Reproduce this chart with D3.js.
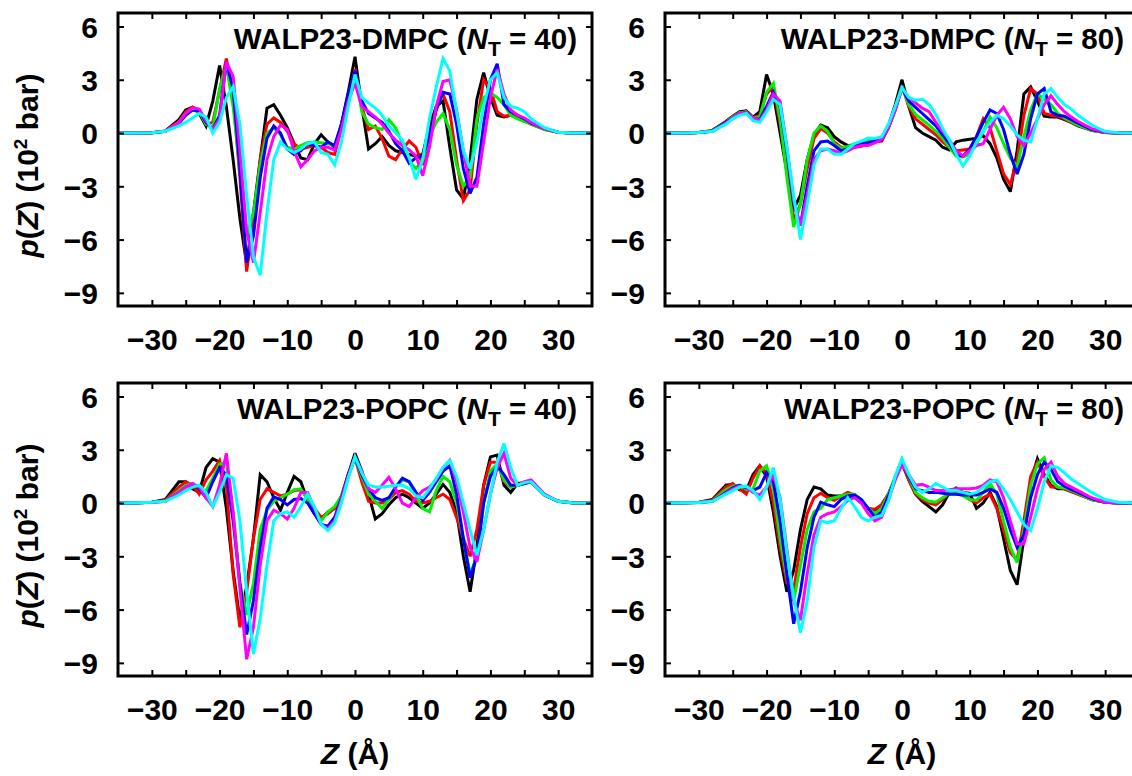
<!DOCTYPE html>
<html><head><meta charset="utf-8">
<script src="https://cdn.jsdelivr.net/npm/d3@7"></script>
<style>body{margin:0;background:#fff}svg{display:block;font-family:"Liberation Sans",Arial,Helvetica,sans-serif;font-weight:bold}</style>
</head><body><svg id="chart" width="1132" height="776"></svg>
<script>
// Z grid (Å)
const zGrid = [-35,-32,-30,-28,-26,
  -25,-24,-23,-22,-21,-20,-19,-18,-17,-16,
  -15,-14,-13,-12,-11,-10,-9,-8,-7,-6,
  -5,-4,-3,-2,-1,0,1,2,3,4,
  5,6,7,8,9,10,11,12,13,14,
  15,16,17,18,19,20,21,22,23,24,
  25,
  26,28,30,32,35];
const xTickValues = [-30,-25,-20,-15,-10,-5,0,5,10,15,20,25,30];
const xTickLabels = [-30,-20,-10,0,10,20,30];
const yTickValues = [-9,-6,-3,0,3,6];
const seriesColors = ["#000000","#ff0000","#00f000","#0000ff","#ff00ff","#00ffff"];
const panelSystems = ["WALP23-DMPC","WALP23-DMPC","WALP23-POPC","WALP23-POPC"];
const panelNT = ["40","80","40","80"];

// WALP23-DMPC, N_T = 40
const dmpc40_black = [0,0,0.02,0.12,0.75, 1.3,1.45,1.1,0.4,1.8,3.8,1.5,-1.5,-4.8,-7.4, -4.5,-1.5,1.4,1.6,1.0,0.3,-0.6,-1.4,-1.5,-0.6, -0.1,-0.5,-0.8,0.5,2.3,4.3,1.5,-0.9,-0.6,-0.2, -0.7,-1.0,-1.1,-1.2,-1.3,-1.2,0.4,1.5,1.8,-0.8, -3.2,-3.7,-1.5,1.9,3.4,2.0,1.0,0.9,1.0,0.9, 0.75, 0.55,0.25,0.05,0,0];
const dmpc40_red = [0,0,0.02,0.1,0.65, 1.2,1.45,1.3,0.5,0.6,2.4,4.2,2.0,-2.5,-7.8, -5.0,-1.5,0.5,0.85,0.6,0.1,-0.6,-0.9,-0.8,-0.7, -0.8,-1.1,-1.2,0.3,2.0,3.6,1.5,0.2,0.4,-0.3, -1.3,-1.5,-0.9,-0.45,-0.8,-1.8,-0.5,1.4,2.2,1.2, -1.5,-3.8,-3.2,0.5,3.0,2.5,1.2,0.95,1.0,0.9, 0.7, 0.5,0.2,0.05,0,0];
const dmpc40_green = [0,0,0.02,0.1,0.6, 1.1,1.3,1.2,0.5,0.3,2.5,3.8,1.5,-2.0,-5.8, -4.5,-1.8,0.0,0.3,-0.1,-0.8,-0.9,-0.7,-0.55,-0.5, -0.55,-0.6,-0.7,0.5,2.0,3.4,1.2,0.5,0.3,0.2, 0.75,0.3,-0.6,-1.6,-2.0,-1.5,-0.2,0.6,1.1,0.2, -1.8,-3.0,-2.5,0.8,2.0,2.25,2.0,1.6,1.0,0.8, 0.65, 0.5,0.2,0.05,0,0];
const dmpc40_blue = [0,0,0.02,0.1,0.55, 1.0,1.3,1.25,0.6,0.2,1.0,4.0,2.5,-2.0,-7.3, -5.8,-2.5,-0.3,0.4,0.0,-0.9,-1.2,-1.0,-0.6,-0.7, -0.8,-0.5,-0.7,0.5,2.2,3.5,1.8,1.1,0.85,0.6, 0.1,-0.6,-1.0,-1.7,-1.4,-1.3,-0.2,1.3,2.3,2.2, 0.5,-2.0,-3.4,-2.5,0.5,3.0,3.9,1.6,1.2,1.0, 0.8, 0.55,0.25,0.05,0,0];
const dmpc40_magenta = [0,0,0.02,0.1,0.6, 1.1,1.4,1.35,0.7,0.2,0.8,4.0,3.2,-1.0,-5.5, -7.3,-4.5,-1.5,-0.2,0.45,0.2,-1.0,-1.9,-1.5,-1.0, -0.8,-0.8,-0.95,0.2,1.8,2.8,1.5,1.2,0.9,0.5, 0.0,-0.4,-0.7,-0.95,-1.3,-2.4,-0.8,1.5,2.9,3.0, 1.3,-1.0,-3.0,-3.0,-0.5,2.0,3.6,2.2,1.3,1.0, 0.85, 0.6,0.25,0.05,0,0];
const dmpc40_cyan = [0,0,0.02,0.1,0.4, 0.6,0.85,1.1,0.9,0.0,0.6,2.0,2.6,0.5,-3.5, -7.0,-8.0,-4.5,-1.5,-0.5,-0.9,-1.1,-0.9,-0.6,-0.5, -1.1,-1.2,-1.8,-0.5,1.5,3.3,2.0,1.7,1.4,1.0, 0.4,0.0,-0.4,-1.4,-2.6,-1.5,0.8,2.6,4.2,3.5, 1.2,-1.0,-2.0,-0.5,1.5,3.0,3.4,2.0,1.5,1.4, 1.2, 0.8,0.3,0.05,0,0];

// WALP23-DMPC, N_T = 80
const dmpc80_black = [0,0,0.03,0.15,0.65, 0.95,1.2,1.25,0.9,1.2,3.3,2.2,0.0,-2.2,-4.3, -3.5,-1.5,-0.1,0.45,0.3,-0.2,-0.5,-0.7,-0.75,-0.5, -0.3,-0.4,-0.4,0.4,1.6,3.0,1.5,0.3,0.0,-0.2, -0.4,-0.8,-0.95,-0.5,-0.4,-0.35,-0.3,-0.15,-0.6,-1.4, -2.6,-3.3,-1.0,2.2,2.6,1.8,0.95,0.9,0.9,0.75, 0.6, 0.4,0.15,0.03,0,0];
const dmpc80_red = [0,0,0.03,0.12,0.6, 0.9,1.15,1.2,0.85,1.0,2.2,2.6,0.5,-2.0,-4.9, -4.0,-2.0,-0.3,0.25,0.0,-0.5,-0.8,-0.8,-0.8,-0.75, -0.65,-0.5,-0.45,0.3,1.4,2.65,1.5,0.8,0.5,0.2, -0.1,-0.5,-0.8,-1.0,-0.95,-0.9,-0.2,0.8,0.3,-1.0, -2.3,-2.9,-1.5,1.0,2.5,2.2,1.1,1.0,0.95,0.8, 0.6, 0.45,0.15,0.03,0,0];
const dmpc80_green = [0,0,0.03,0.12,0.6, 0.9,1.15,1.2,0.85,0.9,2.3,2.8,0.8,-2.5,-5.3, -4.0,-1.5,0.0,0.4,0.1,-0.6,-0.85,-0.75,-0.6,-0.5, -0.45,-0.4,-0.35,0.3,1.4,2.65,1.6,1.05,0.75,0.45, 0.1,-0.3,-0.8,-1.3,-1.35,-1.2,-0.6,0.1,0.9,0.3, -0.6,-1.4,-1.9,-0.2,1.3,2.2,1.9,1.6,1.1,0.85, 0.65, 0.45,0.15,0.03,0,0];
const dmpc80_blue = [0,0,0.03,0.1,0.6, 0.85,1.1,1.15,0.85,0.75,1.5,2.3,1.5,-1.0,-4.0, -5.2,-3.0,-1.0,-0.5,-0.45,-0.7,-1.0,-0.9,-0.7,-0.6, -0.55,-0.45,-0.4,0.3,1.3,2.55,1.8,1.45,1.1,0.75, 0.4,-0.1,-0.6,-1.2,-1.3,-0.9,-0.2,0.6,1.3,1.1, 0.2,-1.2,-2.3,-1.2,0.8,2.2,2.5,1.2,1.0,0.95, 0.75, 0.55,0.2,0.04,0,0];
const dmpc80_magenta = [0,0,0.03,0.1,0.55, 0.85,1.1,1.15,0.85,0.7,1.3,2.2,1.8,-0.8,-3.8, -5.2,-3.5,-1.5,-1.0,-0.9,-1.0,-1.15,-1.0,-0.8,-0.7, -0.7,-0.55,-0.35,0.3,1.3,2.55,2.0,1.7,1.4,1.2, 0.6,0.1,-0.4,-1.0,-1.3,-1.0,-0.7,-0.6,0.2,1.0, 1.45,0.8,-0.2,-0.7,0.0,0.8,1.6,2.1,1.6,1.2, 0.9, 0.65,0.25,0.05,0,0];
const dmpc80_cyan = [0,0,0.03,0.1,0.5, 0.8,1.0,1.1,0.7,0.6,1.2,1.9,1.6,-0.8,-3.5, -6.0,-4.0,-1.8,-0.9,-0.9,-1.2,-1.2,-0.9,-0.6,-0.45, -0.3,-0.3,-0.2,0.5,1.5,2.55,2.0,1.85,1.9,1.6, 1.05,0.25,-0.4,-1.2,-1.85,-1.3,-0.5,0.1,0.6,1.0, 0.8,0.4,-0.1,-0.4,-0.5,0.8,2.2,2.5,2.0,1.6, 1.35, 1.0,0.45,0.1,0.02,0];

// WALP23-POPC, N_T = 40
const popc40_black = [0,0.02,0.05,0.2,1.2, 1.2,0.8,0.6,2.0,2.5,2.3,-0.3,-3.8,-6.6,-4.7, -2.0,1.6,1.2,0.3,-0.4,0.6,1.5,1.2,0.1,-0.6, -0.9,-0.5,-0.3,0.3,1.6,2.8,1.8,0.5,-0.9,-0.6, -0.1,0.3,0.5,0.3,0.0,-0.3,0.0,0.5,1.05,0.6, -0.5,-3.0,-5.0,-2.5,1.0,2.6,2.7,1.0,0.6,1.1, 1.15, 1.2,0.45,0.1,0.02,0];
const popc40_red = [0,0.02,0.04,0.15,0.9, 1.2,1.0,0.5,1.3,1.8,2.4,1.0,-4.0,-7.0,-5.0, -2.0,0.2,0.8,0.6,0.4,0.5,0.7,0.75,0.3,-0.3, -0.8,-0.6,-0.3,0.4,1.6,2.55,1.2,0.1,0.0,0.0, 0.2,0.6,0.7,0.5,0.1,0.0,0.1,0.3,0.5,0.2, -0.8,-2.0,-3.0,-1.5,1.0,2.3,2.3,1.2,0.9,1.0, 1.1, 1.2,0.45,0.1,0.02,0];
const popc40_green = [0,0.02,0.04,0.12,0.7, 1.0,1.1,0.8,0.7,1.4,2.2,2.3,-0.5,-4.5,-6.3, -4.5,-1.5,-0.4,0.1,0.3,0.5,0.75,0.8,0.2,-0.5, -1.0,-0.5,-0.2,0.4,1.5,2.55,1.5,0.5,0.1,-0.3, 0.2,0.9,1.3,1.2,0.4,-0.3,-0.5,0.7,1.5,1.2, 0.0,-2.0,-4.0,-3.0,0.0,1.8,2.2,1.3,0.9,1.0, 1.1, 1.2,0.45,0.1,0.02,0];
const popc40_blue = [0,0.02,0.04,0.1,0.6, 0.9,1.05,0.8,0.3,1.2,2.0,1.6,-1.0,-4.5,-7.4, -5.5,-2.5,-0.3,0.35,0.2,-0.1,0.2,0.25,0.0,-0.6, -1.2,-1.3,-0.8,0.3,1.6,2.55,1.6,0.8,0.3,0.15, 0.3,0.9,1.4,1.2,0.6,0.15,0.6,1.2,1.8,2.1, 0.5,-2.0,-4.2,-3.0,0.0,1.5,2.1,1.6,1.0,1.0, 1.1, 1.2,0.45,0.1,0.02,0];
const popc40_magenta = [0,0.02,0.04,0.1,0.6, 0.9,1.1,0.9,0.3,-0.2,1.0,2.8,-0.5,-4.8,-8.8, -7.0,-3.5,-1.0,-0.4,-0.6,-0.9,-0.3,0.6,0.6,-0.3, -1.2,-1.45,-1.0,0.2,1.5,2.6,1.8,0.8,0.6,1.0, 1.45,0.8,0.0,-0.2,0.3,0.7,0.9,1.3,2.0,2.4, 1.2,-0.5,-2.5,-3.3,-1.5,0.5,2.0,2.8,1.4,1.0, 1.2, 1.3,0.5,0.1,0.02,0];
const popc40_cyan = [0,0.02,0.04,0.1,0.45, 0.7,0.9,1.0,0.6,-0.2,0.6,1.6,1.4,-1.0,-5.0, -8.5,-6.5,-3.5,-1.0,-0.6,-0.5,-0.8,-0.2,0.5,-0.2, -1.2,-1.55,-1.1,0.0,1.4,2.6,1.7,1.0,0.9,0.9, 0.95,1.0,1.0,0.8,0.4,0.3,0.8,1.4,2.0,2.4, 1.5,0.0,-1.5,-2.95,-1.5,0.5,2.3,3.35,2.0,1.0, 1.15, 1.2,0.45,0.1,0.02,0];

// WALP23-POPC, N_T = 80
const popc80_black = [0,0.01,0.04,0.2,1.0, 1.05,0.75,0.7,1.6,2.1,1.5,-0.5,-3.0,-5.0,-3.8, -1.5,0.2,0.9,0.8,0.45,0.4,0.4,0.35,0.35,0.0, -0.3,-0.4,-0.1,0.5,1.4,2.3,1.3,0.5,0.1,-0.2, -0.5,-0.1,0.6,0.85,0.6,0.55,-0.3,0.0,0.6,-0.2, -2.0,-3.8,-4.6,-2.0,1.2,2.5,1.6,1.0,0.8,0.8, 0.65, 0.5,0.2,0.04,0,0];
const popc80_red = [0,0.01,0.03,0.15,0.9, 1.1,0.8,0.5,1.4,2.1,1.7,0.0,-2.5,-4.5,-4.9, -2.5,-0.6,0.3,0.55,0.3,0.15,0.4,0.6,0.45,0.1, -0.3,-0.35,-0.1,0.5,1.4,2.2,1.3,0.5,0.2,0.0, -0.1,0.2,0.6,0.7,0.5,0.2,0.0,0.3,0.5,-0.3, -1.5,-2.8,-3.2,-1.0,1.5,2.3,1.5,0.9,0.9,0.8, 0.65, 0.5,0.2,0.04,0,0];
const popc80_green = [0,0.01,0.03,0.12,0.75, 0.95,1.0,0.75,0.8,1.8,2.1,0.8,-2.0,-4.2,-5.5, -3.5,-1.5,-0.5,-0.3,0.2,0.3,0.4,0.5,0.5,0.2, -0.3,-0.6,-0.3,0.5,1.5,2.45,1.5,0.6,0.3,0.1, 0.05,0.3,0.55,0.6,0.4,0.2,0.15,0.6,1.1,0.5, -1.0,-2.5,-3.35,-1.5,1.0,2.2,2.55,1.3,0.9,0.85, 0.7, 0.55,0.2,0.04,0,0];
const popc80_blue = [0,0.01,0.03,0.1,0.6, 0.85,1.0,0.85,0.7,0.9,1.7,1.2,-1.0,-4.0,-6.8, -5.0,-2.5,-0.8,0.05,-0.1,-0.2,0.2,0.4,0.45,0.2, -0.3,-0.8,-0.5,0.4,1.4,2.3,1.5,0.8,0.7,0.6, 0.6,0.55,0.5,0.5,0.45,0.45,0.45,0.6,0.8,0.6, -0.3,-1.5,-2.5,-1.8,0.3,1.6,2.3,1.9,1.2,0.95, 0.75, 0.6,0.25,0.05,0,0];
const popc80_magenta = [0,0.01,0.03,0.1,0.55, 0.8,0.95,0.9,0.6,0.45,0.9,1.55,0.3,-2.6,-5.5, -6.6,-4.0,-1.8,-0.8,-0.6,-0.5,-0.2,0.15,0.3,0.0, -0.6,-1.0,-0.8,0.2,1.3,2.2,1.6,1.0,1.05,0.9, 0.7,0.7,0.75,0.8,0.8,0.8,0.85,1.0,1.3,1.2, 0.3,-1.0,-2.3,-2.3,-0.8,0.8,1.9,2.3,1.5,1.1, 0.9, 0.7,0.3,0.05,0,0];
const popc80_cyan = [0,0.01,0.03,0.1,0.5, 0.7,0.9,0.95,0.7,0.2,0.9,2.0,0.2,-2.8,-5.3, -7.3,-5.5,-2.5,-1.0,-1.1,-1.0,-0.3,0.3,-0.2,-0.8, -1.0,-0.8,-0.7,0.1,1.5,2.5,1.6,0.9,0.6,0.8, 1.1,0.9,0.7,0.7,0.6,0.5,0.6,0.9,1.2,1.3, 0.8,0.2,-0.5,-1.2,-1.55,-0.3,1.2,2.1,2.0,1.7, 1.35, 1.1,0.6,0.2,0.05,0];

const panelSeries = [
  [dmpc40_black,dmpc40_red,dmpc40_green,dmpc40_blue,dmpc40_magenta,dmpc40_cyan],
  [dmpc80_black,dmpc80_red,dmpc80_green,dmpc80_blue,dmpc80_magenta,dmpc80_cyan],
  [popc40_black,popc40_red,popc40_green,popc40_blue,popc40_magenta,popc40_cyan],
  [popc80_black,popc80_red,popc80_green,popc80_blue,popc80_magenta,popc80_cyan]
];

// ---- layout ----
const svg = d3.select("#chart");
svg.append("rect").attr("width",1132).attr("height",776).attr("fill","#fff");
const colLeft = [118, 665];
const rowTop = [13, 383];
const pw = 474, ph = 293;
const fontTick = 30, fontTitle = 29.5, fontAxis = 30;

panelSeries.forEach((series, i) => {
  const col = i % 2, row = Math.floor(i / 2);
  const x0 = colLeft[col], y0 = rowTop[row];
  const x = d3.scaleLinear().domain([-35, 35]).range([0, pw]);
  const y = d3.scaleLinear().domain([-9.74, 6.76]).range([ph, 0]);
  const g = svg.append("g").attr("transform", `translate(${x0},${y0})`);

  const clipId = "clip" + i;
  g.append("clipPath").attr("id", clipId).append("rect").attr("width", pw).attr("height", ph);

  const line = d3.line().x((d, k) => x(zGrid[k])).y(d => y(d));
  const lg = g.append("g").attr("clip-path", `url(#${clipId})`);
  series.forEach((vals, s) => {
    lg.append("path").datum(vals).attr("d", line)
      .attr("fill", "none").attr("stroke", seriesColors[s])
      .attr("stroke-width", 3).attr("stroke-linejoin", "miter").attr("stroke-miterlimit", 3);
  });

  // axes (ticks pointing inward)
  const fmt = d3.format("d");
  const bottom = g.append("g").attr("transform", `translate(0,${ph})`)
    .call(d3.axisBottom(x).tickValues(xTickValues).tickSize(-6).tickSizeOuter(0)
      .tickFormat(v => xTickLabels.includes(v) ? fmt(v) : ""));
  const top = g.append("g")
    .call(d3.axisTop(x).tickValues(xTickValues).tickSize(-6).tickSizeOuter(0).tickFormat(""));
  const left = g.append("g")
    .call(d3.axisLeft(y).tickValues(yTickValues).tickSize(-6).tickSizeOuter(0).tickFormat(fmt).tickPadding(20));
  const right = g.append("g").attr("transform", `translate(${pw},0)`)
    .call(d3.axisRight(y).tickValues(yTickValues).tickSize(-6).tickSizeOuter(0).tickFormat(""));
  [bottom, top, left, right].forEach(a => {
    a.select(".domain").remove();
    a.selectAll(".tick line").attr("stroke", "#000").attr("stroke-width", 2);
    a.selectAll("text").attr("font-family", null).attr("font-size", fontTick).attr("font-weight", "bold").attr("fill", "#000");
  });
  bottom.selectAll("text").attr("y", 44).attr("dy", null);
  left.selectAll("text").attr("dy", "0.36em");

  // frame
  g.append("rect").attr("width", pw).attr("height", ph)
    .attr("fill", "none").attr("stroke", "#000").attr("stroke-width", 3);

  // title
  const t = g.append("text").attr("x", pw - 15).attr("y", 36)
    .attr("text-anchor", "end").attr("font-size", fontTitle).attr("font-weight", "bold");
  t.append("tspan").text(panelSystems[i] + " (");
  t.append("tspan").attr("font-style", "italic").text("N");
  t.append("tspan").attr("font-size", 21).attr("dy", 7).text("T");
  t.append("tspan").attr("dy", -7).text(" = " + panelNT[i] + ")");

  // y-axis title (left column only)
  if (col === 0) {
    const yl = svg.append("text")
      .attr("transform", `translate(${38},${y0 + ph / 2 + 6}) rotate(-90)`)
      .attr("text-anchor", "middle").attr("font-size", fontAxis).attr("font-weight", "bold");
    yl.append("tspan").attr("font-style", "italic").text("p");
    yl.append("tspan").text("(");
    yl.append("tspan").attr("font-style", "italic").text("Z");
    yl.append("tspan").text(") (10");
    yl.append("tspan").attr("font-size", 19).attr("dy", -11).text("2");
    yl.append("tspan").attr("dy", 11).text(" bar)");
  }
  // x-axis title (bottom row only)
  if (row === 1) {
    const xl = svg.append("text").attr("x", x0 + x(0)).attr("y", 764)
      .attr("text-anchor", "middle").attr("font-size", fontAxis).attr("font-weight", "bold");
    xl.append("tspan").attr("font-style", "italic").text("Z");
    xl.append("tspan").text(" (Å)");
  }
});
</script>
</body></html>
